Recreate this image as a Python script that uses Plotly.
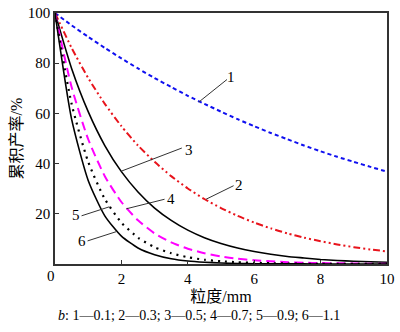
import plotly.graph_objects as go

# particle size, mm
size_mm = [0, 0.5, 1, 1.5, 2, 2.5, 3, 3.5, 4, 4.5, 5, 5.5, 6, 6.5, 7, 7.5, 8, 8.5, 9, 9.5, 10]

# cumulative yield, % (one series per b value)
yield_b01 = [100, 95.1, 90.5, 86.1, 81.9, 77.9, 74.1, 70.5, 67.0, 63.8, 60.7, 57.7, 54.9, 52.2, 49.7, 47.2, 44.9, 42.7, 40.7, 38.7, 36.8]
yield_b03 = [100, 86.1, 74.1, 63.8, 54.9, 47.2, 40.7, 35.0, 30.1, 25.9, 22.3, 19.2, 16.5, 14.2, 12.2, 10.5, 9.1, 7.8, 6.7, 5.8, 5.0]
yield_b05 = [100, 77.9, 60.7, 47.2, 36.8, 28.7, 22.3, 17.4, 13.5, 10.5, 8.2, 6.4, 5.0, 3.9, 3.0, 2.4, 1.8, 1.4, 1.1, 0.9, 0.7]
yield_b07 = [100, 70.5, 49.7, 35.0, 24.7, 17.4, 12.2, 8.6, 6.1, 4.3, 3.0, 2.1, 1.5, 1.1, 0.7, 0.5, 0.4, 0.3, 0.2, 0.1, 0.1]
yield_b09 = [100, 63.8, 40.7, 25.9, 16.5, 10.5, 6.7, 4.3, 2.7, 1.7, 1.1, 0.7, 0.5, 0.3, 0.2, 0.1, 0.1, 0.05, 0.03, 0.02, 0.01]
yield_b11 = [100, 57.7, 33.3, 19.2, 11.1, 6.4, 3.7, 2.1, 1.2, 0.7, 0.4, 0.2, 0.1, 0.1, 0.05, 0.03, 0.02, 0.01, 0.0, 0.0, 0.0]

x_ticks = [2, 4, 6, 8, 10]
y_ticks = [20, 40, 60, 80, 100]

curve_labels = ["1", "2", "3", "4", "5", "6"]
# label text position and leader line end points (data units)
label_pos = [(5.3, 74.5), (5.55, 31.5), (4.05, 45.5), (3.5, 26), (0.62, 19.5), (0.8, 9.2)]
leader_from = [(4.33, 64.5), (4.55, 25.8), (2.0, 37.0), (2.15, 22.0), (1.64, 22.8), (1.85, 12.9)]
leader_to = [(5.18, 73.5), (5.38, 31.2), (3.82, 46.2), (3.3, 25.8), (0.8, 19.2), (0.98, 9.2)]

SERIF = "Liberation Serif"
MIXED = "Liberation Serif, Noto Sans CJK SC"

series = [
    (yield_b01, "#1010f0", "4px,3px", 2),
    (yield_b03, "#e8141c", "7px,3px,2px,3px,2px,3px", 2),
    (yield_b05, "#000000", "solid", 1.6),
    (yield_b07, "#ff00ff", "9px,5px", 2),
    (yield_b09, "#000000", "2px,5px", 2.2),
    (yield_b11, "#000000", "solid", 1.6),
]

fig = go.Figure()
for vals, color, dash, width in series:
    fig.add_trace(go.Scatter(
        x=size_mm, y=vals, mode="lines",
        line=dict(color=color, dash=dash, width=width, shape="spline", smoothing=0.6),
        showlegend=False, hoverinfo="skip",
    ))

for lab, (tx, ty), (x0, y0), (x1, y1) in zip(curve_labels, label_pos, leader_from, leader_to):
    fig.add_shape(type="line", x0=x0, y0=y0, x1=x1, y1=y1, xref="x", yref="y",
                  line=dict(color="#333333", width=1))
    fig.add_annotation(x=tx, y=ty, text=lab, showarrow=False, xref="x", yref="y",
                       font=dict(family=SERIF, size=15, color="#000000"))

# shared origin label
fig.add_annotation(x=0, y=0, text="0", showarrow=False, xref="paper", yref="paper",
                   xanchor="center", yanchor="top", xshift=-4, yshift=-2,
                   font=dict(family=SERIF, size=15, color="#000000"))

fig.add_annotation(x=0.433, y=-0.205, xref="paper", yref="paper", showarrow=False,
                   yanchor="middle",
                   text="<i>b</i>: 1—0.1; 2—0.3; 3—0.5; 4—0.7; 5—0.9; 6—1.1",
                   font=dict(family=SERIF, size=14, color="#000000"))

axis_common = dict(
    showline=True, linecolor="#333333", linewidth=1.5, mirror=True,
    ticks="inside", ticklen=4, tickwidth=1, tickcolor="#333333",
    showgrid=False, zeroline=False, ticklabeloverflow="allow",
    tickfont=dict(family=SERIF, size=15, color="#000000"),
)

fig.update_layout(
    width=400, height=332,
    margin=dict(l=55, r=10, t=5, b=68),
    paper_bgcolor="white", plot_bgcolor="white",
    font=dict(family=MIXED),
    xaxis=dict(range=[0, 10], tickvals=x_ticks,
               title=dict(text="粒度/mm", standoff=5,
                          font=dict(family=MIXED, size=16, color="#000000")),
               **axis_common),
    yaxis=dict(range=[0, 100], tickvals=y_ticks,
               title=dict(text="累积产率/%", standoff=1,
                          font=dict(family=MIXED, size=16, color="#000000")),
               **axis_common),
)

fig.write_html("out.html")
